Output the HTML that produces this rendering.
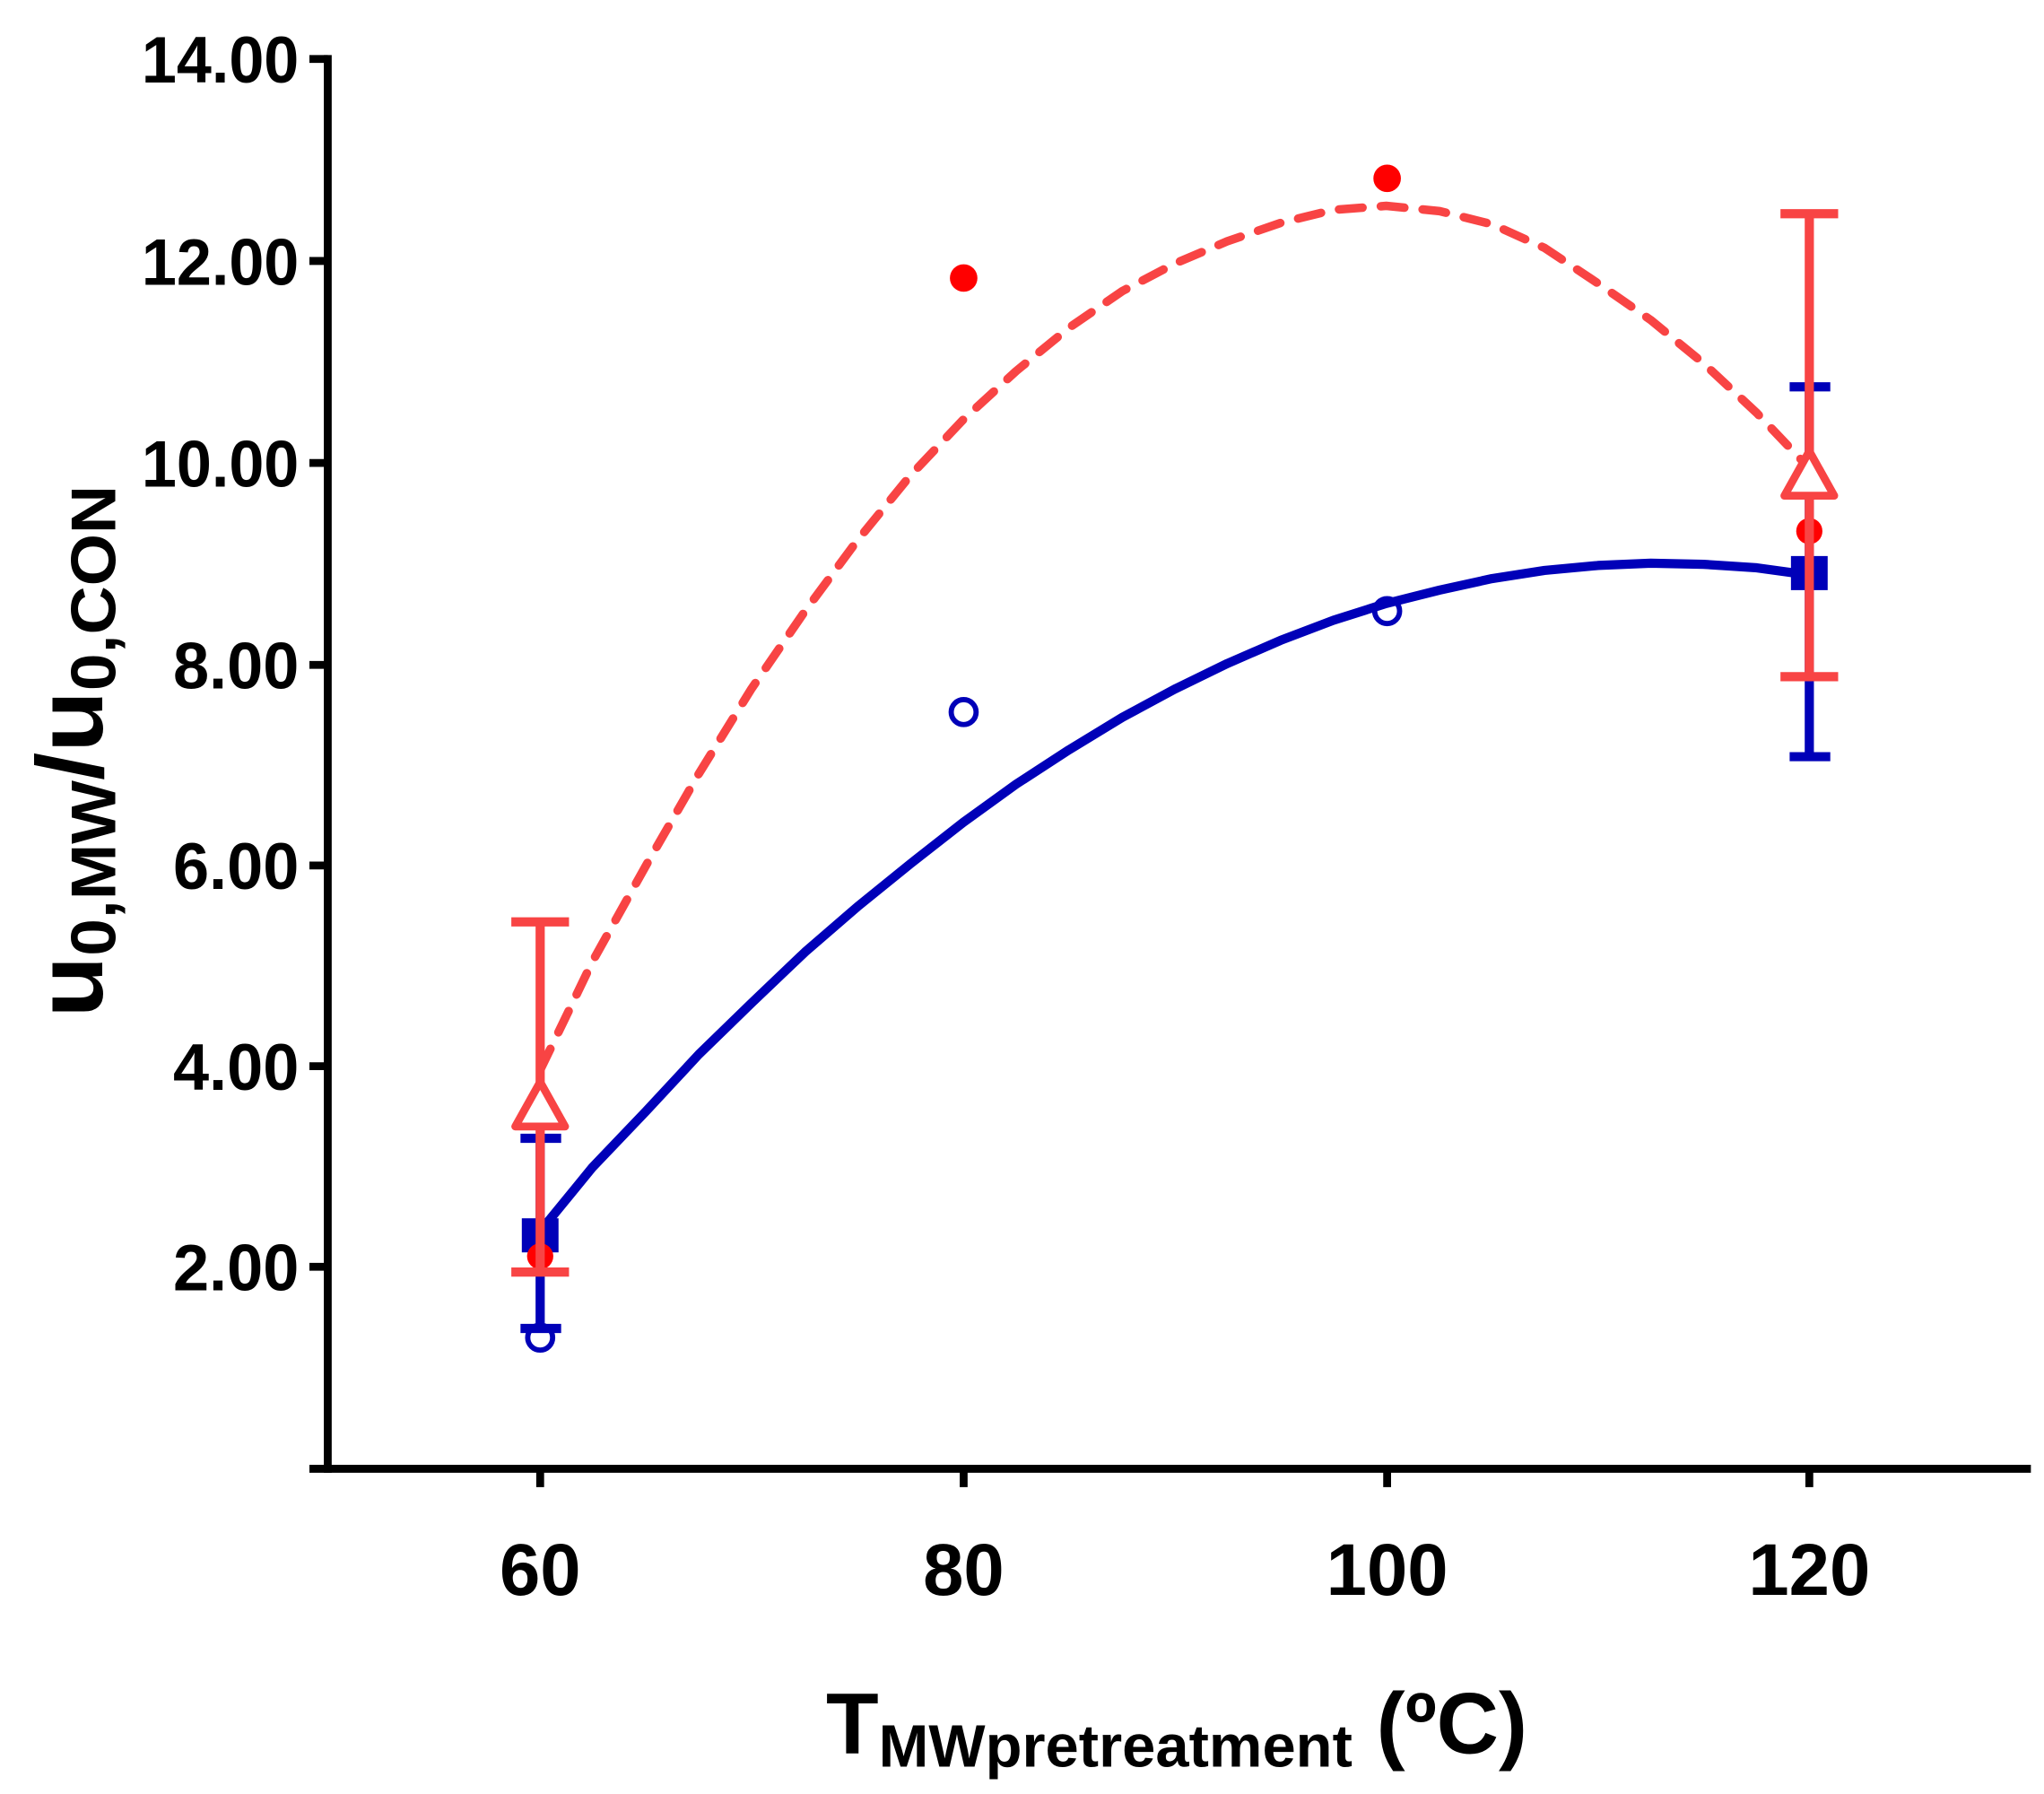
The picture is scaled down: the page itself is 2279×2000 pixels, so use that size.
<!DOCTYPE html>
<html><head><meta charset="utf-8"><style>
html,body{margin:0;padding:0;background:#fff;}
svg{display:block;}
text{font-family:"Liberation Sans",Arial,sans-serif;font-weight:bold;fill:#000;}
</style></head><body>
<svg width="2279" height="2000" viewBox="0 0 1559 1368" preserveAspectRatio="none" xmlns="http://www.w3.org/2000/svg">
<rect width="1559" height="1368" fill="#fff"/>
<g stroke="#000" stroke-width="6" fill="none">
<line x1="250" y1="42" x2="250" y2="1123"/>
<line x1="236" y1="1120" x2="1549" y2="1120"/>
<line x1="236" y1="45" x2="250" y2="45"/>
<line x1="236" y1="199" x2="250" y2="199"/>
<line x1="236" y1="353" x2="250" y2="353"/>
<line x1="236" y1="507" x2="250" y2="507"/>
<line x1="236" y1="660" x2="250" y2="660"/>
<line x1="236" y1="813" x2="250" y2="813"/>
<line x1="236" y1="966" x2="250" y2="966"/>
<line x1="412" y1="1120" x2="412" y2="1134"/>
<line x1="735" y1="1120" x2="735" y2="1134"/>
<line x1="1058" y1="1120" x2="1058" y2="1134"/>
<line x1="1380" y1="1120" x2="1380" y2="1134"/>
</g>
<g font-size="50" text-anchor="end">
<text x="228" y="63" textLength="120" lengthAdjust="spacingAndGlyphs">14.00</text>
<text x="228" y="217" textLength="120" lengthAdjust="spacingAndGlyphs">12.00</text>
<text x="228" y="371" textLength="120" lengthAdjust="spacingAndGlyphs">10.00</text>
<text x="228" y="525" textLength="96" lengthAdjust="spacingAndGlyphs">8.00</text>
<text x="228" y="678" textLength="96" lengthAdjust="spacingAndGlyphs">6.00</text>
<text x="228" y="831" textLength="96" lengthAdjust="spacingAndGlyphs">4.00</text>
<text x="228" y="984" textLength="96" lengthAdjust="spacingAndGlyphs">2.00</text>
</g>
<g font-size="56" text-anchor="middle">
<text x="412" y="1216" textLength="62" lengthAdjust="spacingAndGlyphs">60</text>
<text x="735" y="1216" textLength="62" lengthAdjust="spacingAndGlyphs">80</text>
<text x="1058" y="1216" textLength="93" lengthAdjust="spacingAndGlyphs">100</text>
<text x="1380" y="1216" textLength="93" lengthAdjust="spacingAndGlyphs">120</text>
</g>
<text x="630" y="1337" font-size="66" textLength="535" lengthAdjust="spacingAndGlyphs">T<tspan font-size="46" dy="10">MWpretreatment</tspan><tspan font-size="66" dy="-10"> (ºC)</tspan></text>
<text transform="translate(78,776) rotate(-90)" font-size="72" textLength="406" lengthAdjust="spacingAndGlyphs">u<tspan font-size="48" dy="10">0,MW</tspan><tspan font-size="72" dy="-10">/u</tspan><tspan font-size="48" dy="10">0,CON</tspan></text>

<polyline fill="none" stroke="#F84444" stroke-width="6.5" stroke-dasharray="18 14" stroke-linecap="round" stroke-linejoin="round"
points="412,816 452,733 492.7,660 533,590 573.3,525 614,466 654,412 694,363 734.7,320 775,283 815.3,250 856,222 896,201 936,184 976.7,170 1017,160 1057.3,157 1098,161 1138,171 1178,189 1218.7,216 1259,244 1299.3,277 1340,315 1380,357"/>
<polyline fill="none" stroke="#0000B8" stroke-width="7" stroke-linejoin="round"
points="412,938.9 452,890 492.7,847.4 533,804 573.3,764.8 614,726 654,691.4 694,659 734.7,627.1 775,598 815.3,571.8 856,547 896,525.5 936,506 976.7,488.3 1017,473 1057.3,460.2 1098,450 1138,441.2 1178,435 1218.7,431.2 1259,429.5 1299.3,430.3 1340,433 1380,438.5"/>

<g stroke="#0000B8" stroke-width="7">
<line x1="412" y1="1013" x2="412" y2="868"/>
<line x1="397" y1="1013" x2="428" y2="1013"/>
<line x1="397" y1="868" x2="428" y2="868"/>
<line x1="1380" y1="577" x2="1380" y2="295"/>
<line x1="1365" y1="577" x2="1396" y2="577"/>
<line x1="1365" y1="295" x2="1396" y2="295"/>
</g>
<rect x="398" y="929" width="28" height="26" fill="#0000B8"/>
<rect x="1366" y="424" width="28" height="26" fill="#0000B8"/>
<g fill="none" stroke="#0000B8" stroke-width="4">
<circle cx="412" cy="1020" r="9.5"/>
<circle cx="735" cy="543" r="9.5"/>
<circle cx="1058" cy="466" r="9.5"/>
</g>
<g fill="#FF0000">
<circle cx="412" cy="958" r="10"/>
<circle cx="735" cy="212" r="10.5"/>
<circle cx="1058" cy="136" r="10.5"/>
<circle cx="1380" cy="405" r="10"/>
</g>
<g stroke="#F84444" stroke-width="7">
<line x1="412" y1="970" x2="412" y2="703"/>
<line x1="390" y1="970" x2="434" y2="970"/>
<line x1="390" y1="703" x2="434" y2="703"/>
<line x1="1380" y1="516" x2="1380" y2="163"/>
<line x1="1358" y1="516" x2="1402" y2="516"/>
<line x1="1358" y1="163" x2="1402" y2="163"/>
</g>
<g fill="#fff" stroke="#F84444" stroke-width="6" stroke-linejoin="round">
<polygon points="412,825 393,859 431,859"/>
<polygon points="1380,344 1361,378 1399,378"/>
</g>
</svg>
</body></html>
